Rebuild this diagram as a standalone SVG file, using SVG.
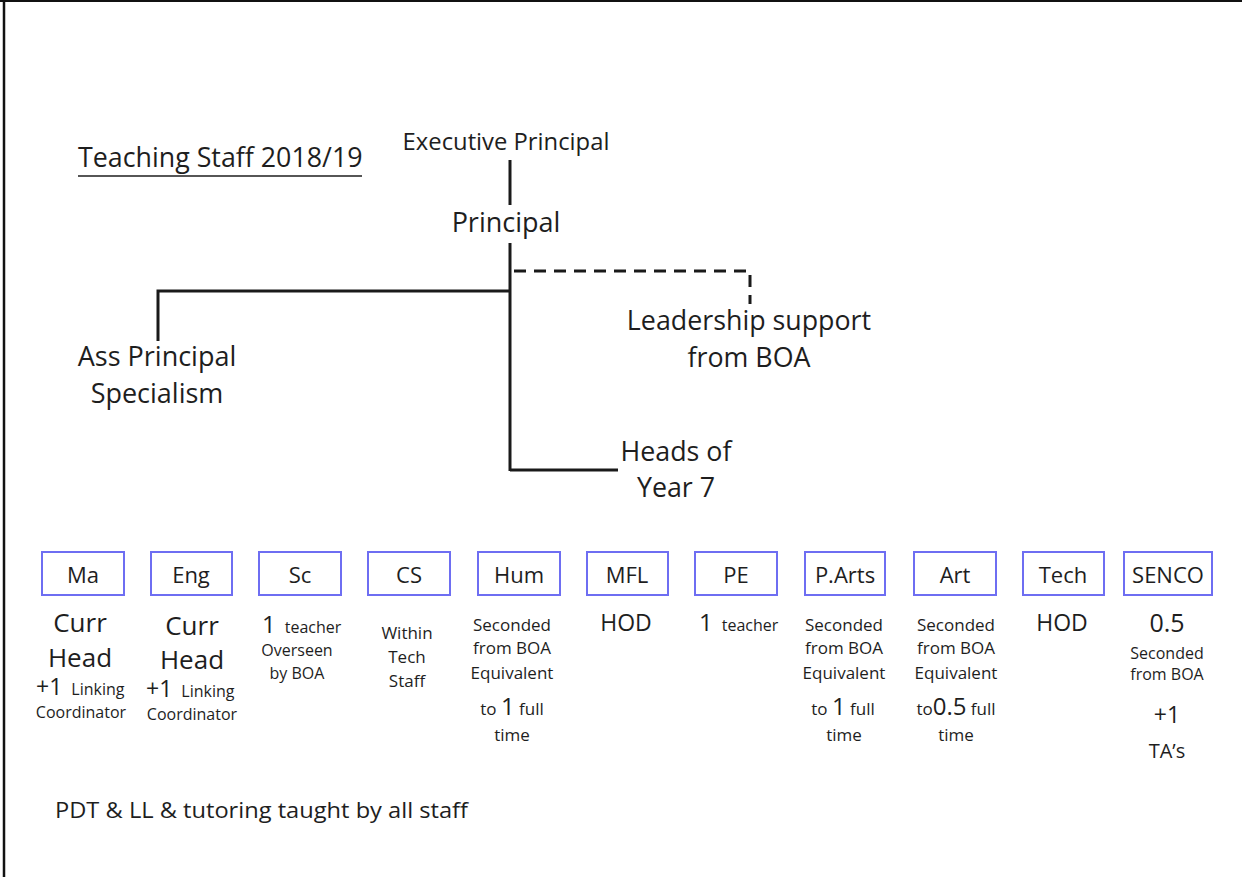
<svg xmlns="http://www.w3.org/2000/svg" width="1242" height="877" viewBox="0 0 1242 877">
  <style>
    text { font-family: "Open Sans", Lato, "Liberation Sans", sans-serif; fill: #1e1e1e; }
    .mid { text-anchor: middle; }
    .role { font-size: 26.8px; }
    .box { fill: #ffffff; stroke: #6e6ef2; stroke-width: 2; }
    .lbl { font-size: 22px; text-anchor: middle; }
    .big { font-size: 24px; }
    .plus { font-size: 23px; }
    .sm { font-size: 16px; }
    .note { font-size: 17px; }
    .line { fill: none; stroke: #1a1a1a; stroke-width: 3; }
    .dash { fill: none; stroke: #1a1a1a; stroke-width: 3; stroke-dasharray: 12 8; }
  </style>

  <rect x="0" y="0" width="1242" height="877" fill="#ffffff"/>
  <!-- frame edges -->
  <line x1="0" y1="1" x2="1242" y2="1" stroke="#111" stroke-width="2"/>
  <line x1="4" y1="0" x2="4" y2="877" stroke="#111" stroke-width="2.5"/>

  <!-- heading -->
  <g id="heading">
    <text x="78" y="167" style="font-size:26.8px">Teaching Staff 2018/19</text>
    <line x1="78" y1="176" x2="362" y2="176" stroke="#1e1e1e" stroke-width="1.5"/>
  </g>

  <!-- connectors -->
  <g id="connectors">
    <line class="line" x1="510" y1="160" x2="510" y2="205"/>
    <line class="line" x1="510" y1="243" x2="510" y2="471"/>
    <polyline class="line" points="510,291 158,291 158,341"/>
    <polyline class="line" points="510,470 618,470"/>
    <polyline class="dash" points="514,271 750,271 750,304"/>
  </g>

  <!-- leadership -->
  <g id="exec-principal"><text x="506" y="150" class="mid" style="font-size:23.8px">Executive Principal</text></g>
  <g id="principal"><text x="506" y="232" class="mid" style="font-size:27px">Principal</text></g>
  <g id="ass-principal">
    <text x="157" y="366" class="mid" style="font-size:27px">Ass Principal</text>
    <text x="157" y="403" class="mid" style="font-size:27px">Specialism</text>
  </g>
  <g id="leadership-support">
    <text x="749" y="330" class="mid role">Leadership support</text>
    <text x="749" y="367" class="mid role">from BOA</text>
  </g>
  <g id="heads-of-year">
    <text x="676" y="461" class="mid role">Heads of</text>
    <text x="676" y="497" class="mid role">Year 7</text>
  </g>

  <!-- departments -->
  <g id="dept-ma">
    <rect class="box" x="42" y="552" width="82" height="43"/>
    <text x="83" y="583" class="lbl">Ma</text>
    <text x="80" y="632" class="mid" style="font-size:26px">Curr</text>
    <text x="80" y="667" class="mid" style="font-size:26px">Head</text>
    <text x="36" y="695"><tspan class="plus">+1</tspan><tspan class="sm" dx="9">Linking</tspan></text>
    <text x="81" y="718" class="mid sm">Coordinator</text>
  </g>
  <g id="dept-eng">
    <rect class="box" x="151" y="552" width="81" height="43"/>
    <text x="191" y="583" class="lbl">Eng</text>
    <text x="192" y="635" class="mid" style="font-size:26px">Curr</text>
    <text x="192" y="669" class="mid" style="font-size:26px">Head</text>
    <text x="146" y="697"><tspan class="plus">+1</tspan><tspan class="sm" dx="9">Linking</tspan></text>
    <text x="192" y="720" class="mid sm">Coordinator</text>
  </g>
  <g id="dept-sc">
    <rect class="box" x="259" y="552" width="82" height="43"/>
    <text x="300" y="583" class="lbl">Sc</text>
    <text x="262" y="633"><tspan class="big">1</tspan><tspan class="sm" dx="9">teacher</tspan></text>
    <text x="297" y="656" class="mid sm">Overseen</text>
    <text x="297" y="679" class="mid sm">by BOA</text>
  </g>
  <g id="dept-cs">
    <rect class="box" x="368" y="552" width="82" height="43"/>
    <text x="409" y="583" class="lbl">CS</text>
    <text x="407" y="639" class="mid note">Within</text>
    <text x="407" y="663" class="mid note">Tech</text>
    <text x="407" y="687" class="mid note">Staff</text>
  </g>
  <g id="dept-hum">
    <rect class="box" x="478" y="552" width="82" height="43"/>
    <text x="519" y="583" class="lbl">Hum</text>
    <text x="512" y="631" class="mid note">Seconded</text>
    <text x="512" y="654" class="mid note">from BOA</text>
    <text x="512" y="679" class="mid note">Equivalent</text>
    <text x="512" y="715" class="mid"><tspan class="note">to </tspan><tspan class="big">1</tspan><tspan class="note"> full</tspan></text>
    <text x="512" y="741" class="mid note">time</text>
  </g>
  <g id="dept-mfl">
    <rect class="box" x="587" y="552" width="81" height="43"/>
    <text x="627" y="583" class="lbl">MFL</text>
    <text x="626" y="631" class="mid" style="font-size:23px">HOD</text>
  </g>
  <g id="dept-pe">
    <rect class="box" x="695" y="552" width="82" height="43"/>
    <text x="736" y="583" class="lbl">PE</text>
    <text x="699" y="631"><tspan class="big">1</tspan><tspan class="sm" dx="9">teacher</tspan></text>
  </g>
  <g id="dept-parts">
    <rect class="box" x="805" y="552" width="80" height="43"/>
    <text x="845" y="583" class="lbl">P.Arts</text>
    <text x="844" y="631" class="mid note">Seconded</text>
    <text x="844" y="654" class="mid note">from BOA</text>
    <text x="844" y="679" class="mid note">Equivalent</text>
    <text x="843" y="715" class="mid"><tspan class="note">to </tspan><tspan class="big">1</tspan><tspan class="note"> full</tspan></text>
    <text x="844" y="741" class="mid note">time</text>
  </g>
  <g id="dept-art">
    <rect class="box" x="914" y="552" width="82" height="43"/>
    <text x="955" y="583" class="lbl">Art</text>
    <text x="956" y="631" class="mid note">Seconded</text>
    <text x="956" y="654" class="mid note">from BOA</text>
    <text x="956" y="679" class="mid note">Equivalent</text>
    <text x="956" y="715" class="mid"><tspan class="note">to</tspan><tspan class="big">0.5</tspan><tspan class="note"> full</tspan></text>
    <text x="956" y="741" class="mid note">time</text>
  </g>
  <g id="dept-tech">
    <rect class="box" x="1023" y="552" width="81" height="43"/>
    <text x="1063" y="583" class="lbl">Tech</text>
    <text x="1062" y="631" class="mid" style="font-size:23px">HOD</text>
  </g>
  <g id="dept-senco">
    <rect class="box" x="1124" y="552" width="88" height="43"/>
    <text x="1168" y="583" class="lbl">SENCO</text>
    <text x="1167" y="632" class="mid" style="font-size:25px">0.5</text>
    <text x="1167" y="659" class="mid sm">Seconded</text>
    <text x="1167" y="680" class="mid sm">from BOA</text>
    <text x="1167" y="723" class="mid" style="font-size:23px">+1</text>
    <text x="1167" y="758" class="mid" style="font-size:20px">TA’s</text>
  </g>

  <!-- footnote -->
  <g id="footnote">
    <text x="55" y="818" style="font-size:22px" textLength="413" lengthAdjust="spacingAndGlyphs">PDT &amp; LL &amp; tutoring taught by all staff</text>
  </g>
</svg>
